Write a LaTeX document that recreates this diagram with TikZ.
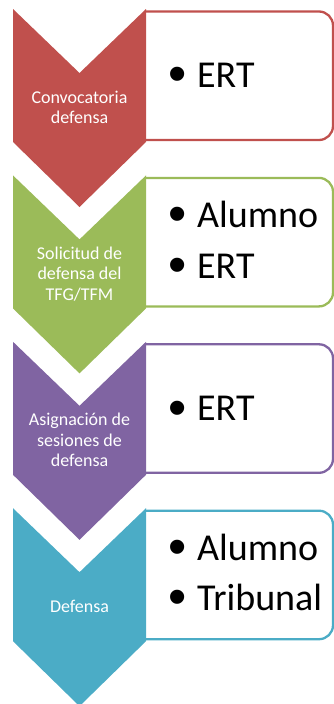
\documentclass[tikz,border=0pt]{standalone}
\usepackage{fontspec}
\setmainfont{Carlito}
\newfontfamily\bulfont{Liberation Sans}
\definecolor{cred}{HTML}{C0504D}
\definecolor{cgreen}{HTML}{9BBB59}
\definecolor{cpurple}{HTML}{8064A2}
\definecolor{cteal}{HTML}{4BACC6}
\begin{document}
\begin{tikzpicture}[x=1pt,y=-1pt,
  listbox/.style={draw=#1, line width=2.3pt, rounded corners=14pt},
  steplabel/.style={text=white, font=\fontsize{18}{20.5}\selectfont, align=center, inner sep=0pt},
  item/.style={anchor=base west, inner sep=0pt, font=\fontsize{38}{40}\selectfont}]
\useasboundingbox (0,0) rectangle (334,704);
\clip (0,0) rectangle (334,704);
% boxes first
\foreach \i/\c in {0/cred,1/cgreen,2/cpurple,3/cteal}{
  \pgfmathsetmacro{\T}{9+166.4*\i}
  \draw[listbox=\c] (146,\T+2.5) -- (333,\T+2.5) -- (333,\T+131) -- (146,\T+131);
}
% chevrons on top
\foreach \i/\c in {0/cred,1/cgreen,2/cpurple,3/cteal}{
  \pgfmathsetmacro{\T}{9+166.4*\i}
  \fill[\c] (13,\T) -- (79.5,\T+64) -- (146,\T) -- (146,\T+133) -- (79.5,\T+198) -- (13,\T+133) -- cycle;
}
% step labels
\node[steplabel] (s1) at (79.5,107.5) {Convocatoria\\defensa};
\node[steplabel] (s2) at (79.5,273.9) {Solicitud de\\defensa del\\TFG/TFM};
\node[steplabel] (s3) at (79.5,440.3) {Asignación de\\sesiones de\\defensa};
\node[steplabel] (s4) at (79.5,606.7) {Defensa};
% list items
\newcommand{\bul}{\makebox[29pt][l]{\raisebox{-4.5pt}{\bulfont\fontsize{52}{52}\selectfont •}}}
\node[item] (a1) at (168,87) {\bul ERT};
\node[item] (b1) at (168,227.4) {\bul Alumno};
\node[item] (b2) at (168,278.4) {\bul ERT};
\node[item] (c1) at (168,420.8) {\bul ERT};
\node[item] (d1) at (168,560.2) {\bul Alumno};
\node[item] (d2) at (168,610.2) {\bul Tribunal};
\end{tikzpicture}
\end{document}
